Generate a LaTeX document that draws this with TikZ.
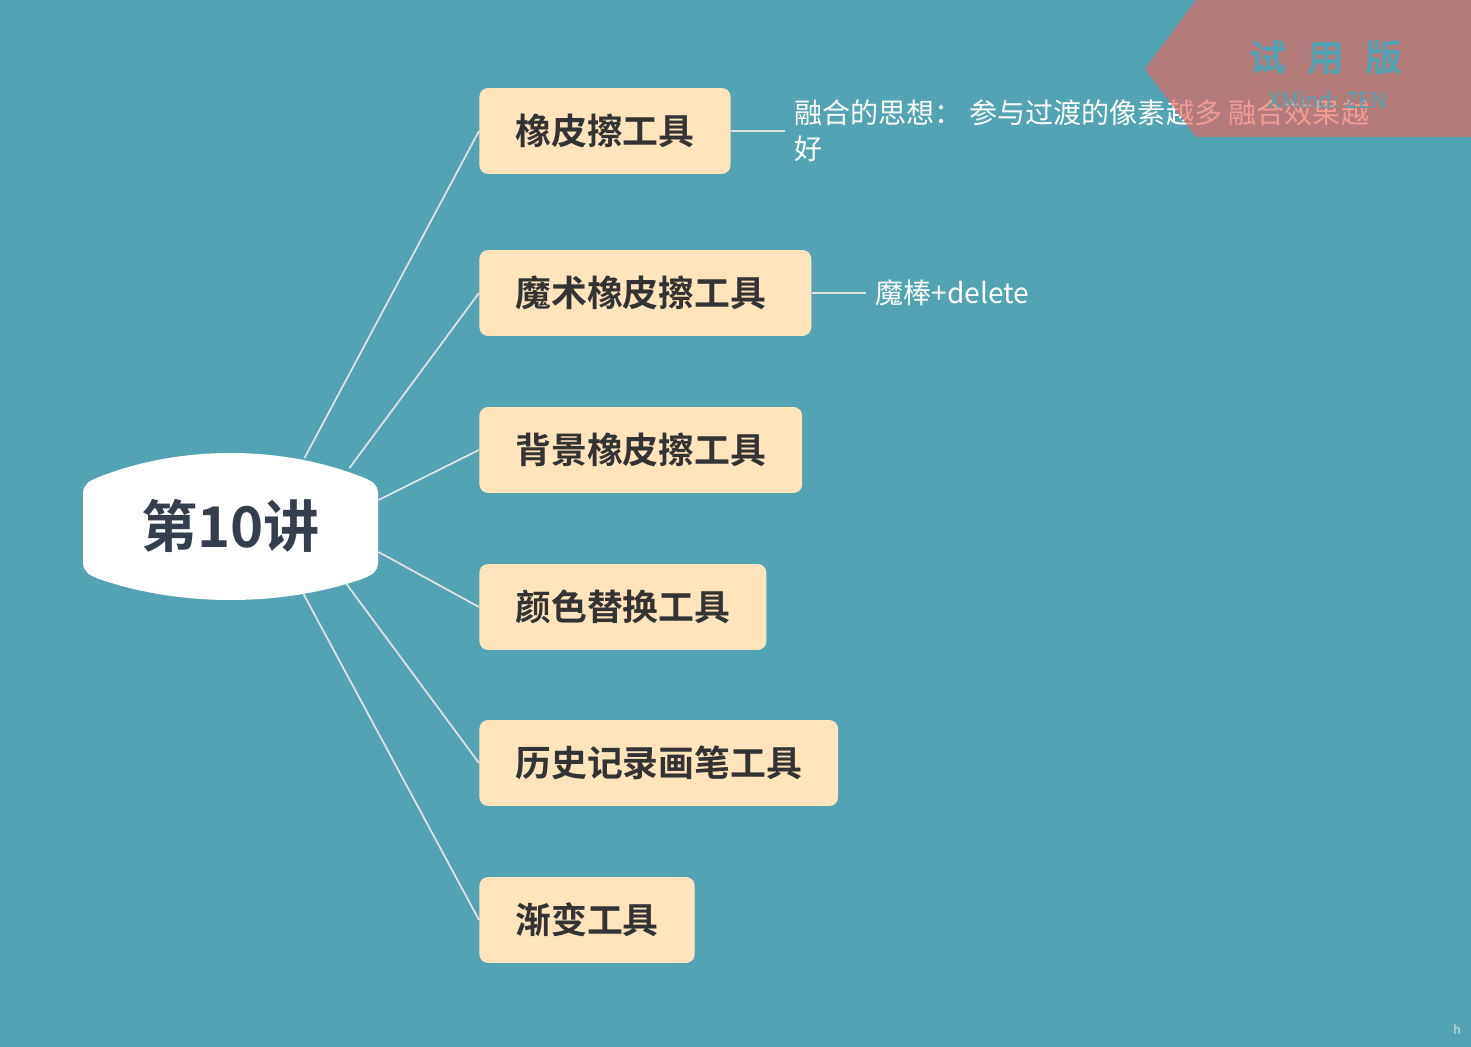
\documentclass[tikz,border=0pt]{standalone}
\usepackage{fontspec}
\setmainfont{Noto Sans CJK SC}[BoldFont={Noto Sans CJK SC Bold}]
\usepackage{tikz}
\usetikzlibrary{positioning}

\definecolor{bgteal}{RGB}{82,164,181}
\definecolor{cream}{RGB}{255,228,188}
\definecolor{ink}{RGB}{51,51,51}
\definecolor{slate}{RGB}{52,62,76}
\definecolor{twig}{RGB}{222,226,228}
\definecolor{wmark}{RGB}{232,102,90}

\tikzset{
    tool/.style={fill=cream,rounded corners=5pt,anchor=west,minimum height=1.72cm,
        inner xsep=0.72cm,text=ink,font=\bfseries\fontsize{20.4}{24}\selectfont},
    twig/.style={draw=twig,line width=1pt},
    note/.style={anchor=west,text=white,align=left,inner xsep=0.18cm,
        font=\fontsize{16}{20.5}\selectfont}
}

\begin{document}
\begin{tikzpicture}[x=0.02cm,y=-0.02cm]
    \useasboundingbox (0,0) rectangle (1471,1047);
    \fill[bgteal] (0,0) rectangle (1471,1047);
    % central topic
    \fill[white] (83,494) -- (83,562) .. controls (83,572) and (89,575) .. (99,579)
        .. controls (180,607) and (281,607) .. (362,579) .. controls (372,575) and (378,572) .. (378,562)
        -- (378,494) .. controls (378,484) and (372,481) .. (362,477)
        .. controls (281,445) and (180,445) .. (99,477) .. controls (89,481) and (83,484) .. (83,494) -- cycle;
    \node[text=slate,font=\bfseries\fontsize{32}{36}\selectfont] (lect) at (230.5,526) {第10讲};
    % tools
    \node[tool] (t1) at (479,131) {橡皮擦工具};
    \node[tool,text width=5.2cm,align=left] (t2) at (479,293) {魔术橡皮擦工具};
    \node[tool] (t3) at (479,450) {背景橡皮擦工具};
    \node[tool] (t4) at (479,607) {颜色替换工具};
    \node[tool] (t5) at (479,763) {历史记录画笔工具};
    \node[tool] (t6) at (479,920) {渐变工具};
    \draw[twig] ([shift={(74,-68)}]lect.center) -- (t1.west);
    \draw[twig] ([shift={(119,-58)}]lect.center) -- (t2.west);
    \draw[twig] ([shift={(148,-26)}]lect.center) -- (t3.west);
    \draw[twig] ([shift={(148,26)}]lect.center) -- (t4.west);
    \draw[twig] ([shift={(116,58)}]lect.center) -- (t5.west);
    \draw[twig] ([shift={(73,68)}]lect.center) -- (t6.west);
    % notes
    \node[note] (n1) at (785,131) {融合的思想： 参与过渡的像素越多 融合效果越\\好};
    \node[note] (n2) at (866,293) {魔棒+delete};
    \draw[twig] (t1.east) -- (n1.west);
    \draw[twig] (t2.east) -- (n2.west);
    % trial banner
    \fill[wmark,opacity=0.65] (1145,69) -- (1196,0) -- (1471,0) -- (1471,137) -- (1196,137) -- cycle;
    \node[text=bgteal,font=\bfseries\fontsize{21}{21}\selectfont] (trial) at (1326,58) {试\hspace{0.42cm}用\hspace{0.42cm}版};
    \node[text=bgteal,font=\fontsize{12.5}{12.5}\selectfont] (brand) at (1328,100) {XMind: ZEN};
    \node[text=twig,font=\fontsize{7}{7}\selectfont] (hmark) at (1457,1030) {h};
\end{tikzpicture}
\end{document}
